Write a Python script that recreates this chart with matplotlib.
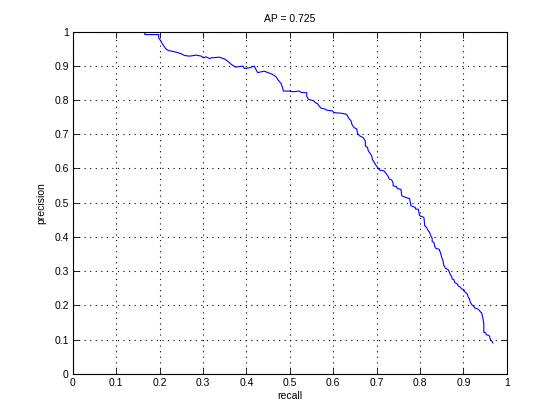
import matplotlib
matplotlib.use("Agg")
import matplotlib.pyplot as plt
import numpy as np

# precision / recall points
recall = [
    0.166, 0.166, 0.198, 0.198, 0.202, 0.205, 0.210, 0.214, 0.219, 0.234,
    0.250, 0.257, 0.269, 0.284, 0.296, 0.301, 0.307, 0.315, 0.319, 0.338,
    0.349, 0.355, 0.361, 0.365, 0.375, 0.392, 0.395, 0.407, 0.418, 0.422,
    0.426, 0.441, 0.460, 0.468, 0.474, 0.480, 0.484, 0.485, 0.499, 0.506,
    0.522, 0.526, 0.539, 0.539, 0.543, 0.551, 0.556, 0.559, 0.564, 0.566,
    0.572, 0.583, 0.585, 0.598, 0.602, 0.620, 0.631, 0.635, 0.641, 0.643,
    0.648, 0.654, 0.656, 0.661, 0.669, 0.674, 0.674, 0.679, 0.681, 0.684,
    0.689, 0.690, 0.694, 0.697, 0.700, 0.704, 0.707, 0.717, 0.723, 0.727,
    0.729, 0.735, 0.738, 0.738, 0.746, 0.748, 0.756, 0.758, 0.767, 0.776,
    0.779, 0.789, 0.790, 0.796, 0.799, 0.805, 0.809, 0.811, 0.815, 0.819,
    0.822, 0.825, 0.828, 0.828, 0.832, 0.834, 0.837, 0.844, 0.845, 0.847,
    0.850, 0.853, 0.855, 0.859, 0.865, 0.868, 0.870, 0.873, 0.874, 0.878,
    0.880, 0.886, 0.888, 0.893, 0.896, 0.901, 0.903, 0.909, 0.911, 0.914,
    0.916, 0.920, 0.924, 0.926, 0.932, 0.937, 0.940, 0.942, 0.945, 0.947,
    0.947, 0.951, 0.953, 0.959, 0.961, 0.962, 0.965, 0.968,
]
precision = [
    1.000, 0.991, 0.991, 0.981, 0.974, 0.967, 0.957, 0.950, 0.945, 0.941,
    0.935, 0.930, 0.928, 0.931, 0.928, 0.923, 0.926, 0.921, 0.923, 0.925,
    0.920, 0.915, 0.909, 0.904, 0.896, 0.899, 0.892, 0.894, 0.899, 0.889,
    0.880, 0.884, 0.875, 0.868, 0.857, 0.848, 0.833, 0.826, 0.826, 0.824,
    0.826, 0.822, 0.821, 0.811, 0.802, 0.799, 0.797, 0.792, 0.789, 0.785,
    0.776, 0.773, 0.770, 0.768, 0.763, 0.761, 0.758, 0.748, 0.739, 0.729,
    0.719, 0.716, 0.703, 0.695, 0.690, 0.680, 0.666, 0.661, 0.651, 0.646,
    0.636, 0.627, 0.619, 0.612, 0.607, 0.600, 0.595, 0.593, 0.583, 0.576,
    0.569, 0.566, 0.557, 0.549, 0.547, 0.541, 0.539, 0.520, 0.515, 0.512,
    0.491, 0.486, 0.481, 0.481, 0.462, 0.459, 0.457, 0.432, 0.428, 0.418,
    0.413, 0.403, 0.396, 0.386, 0.384, 0.372, 0.366, 0.364, 0.360, 0.355,
    0.340, 0.330, 0.316, 0.308, 0.304, 0.296, 0.289, 0.285, 0.277, 0.275,
    0.267, 0.262, 0.257, 0.253, 0.248, 0.246, 0.240, 0.233, 0.224, 0.219,
    0.209, 0.201, 0.197, 0.192, 0.190, 0.185, 0.180, 0.178, 0.162, 0.146,
    0.121, 0.120, 0.114, 0.112, 0.107, 0.100, 0.097, 0.090,
]
ticks = [0, 0.1, 0.2, 0.3, 0.4, 0.5, 0.6, 0.7, 0.8, 0.9, 1]
tick_labels = ["0", "0.1", "0.2", "0.3", "0.4", "0.5", "0.6", "0.7", "0.8", "0.9", "1"]
ap = 0.725

plt.rcParams["font.family"] = ["Liberation Sans", "DejaVu Sans"]
plt.rcParams["font.size"] = 7.5

fig = plt.figure(figsize=(5.6, 4.2), dpi=100)
ax = fig.add_axes([0.13, 0.11, 0.775, 0.815])

# matlab-ish thin line
ax.plot(recall, precision, color="#0000ff", linewidth=0.8)

ax.set_xlim(0, 1)
ax.set_ylim(0, 1)
ax.set_xticks(ticks)
ax.set_yticks(ticks)
ax.set_xticklabels(tick_labels)
ax.set_yticklabels(tick_labels)
ax.tick_params(direction="in", length=4, width=0.6, top=True, right=True, pad=3)
ax.grid(True, color="black", linestyle=(0, (1, 4)), linewidth=0.8)
for s in ax.spines.values():
    s.set_linewidth(0.8)

ax.set_xlabel("recall", labelpad=2)
ax.set_ylabel("precision", labelpad=6)
ax.set_title("AP = %.3f" % ap, fontsize=7.5, pad=7)

fig.savefig("out.png", dpi=100)
